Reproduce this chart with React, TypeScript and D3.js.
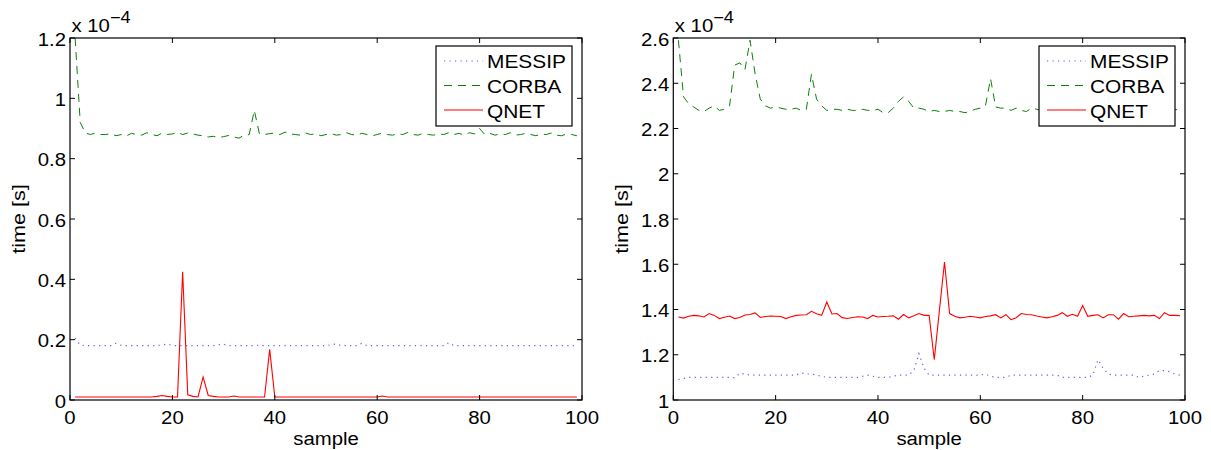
import * as d3 from "d3";

// sample index 1..99
const samples = d3.range(1, 100);

// left panel (x 1e-4 s)
const leftMessip = [
  0.205, 0.182, 0.18, 0.18, 0.18, 0.18, 0.18, 0.18, 0.188, 0.181,
  0.18, 0.18, 0.18, 0.18, 0.18, 0.18, 0.18, 0.183, 0.185, 0.181,
  0.18, 0.18, 0.18, 0.18, 0.18, 0.18, 0.18, 0.18, 0.183, 0.185,
  0.18, 0.18, 0.18, 0.18, 0.18, 0.18, 0.182, 0.18, 0.18, 0.18,
  0.18, 0.18, 0.18, 0.18, 0.18, 0.18, 0.18, 0.18, 0.18, 0.18,
  0.183, 0.186, 0.18, 0.18, 0.18, 0.18, 0.188, 0.18, 0.18, 0.18,
  0.18, 0.18, 0.18, 0.18, 0.18, 0.18, 0.18, 0.18, 0.18, 0.18,
  0.18, 0.18, 0.18, 0.19, 0.18, 0.18, 0.18, 0.18, 0.18, 0.18,
  0.18, 0.18, 0.18, 0.18, 0.18, 0.18, 0.18, 0.18, 0.18, 0.18,
  0.18, 0.18, 0.18, 0.18, 0.18, 0.18, 0.18, 0.18, 0.181,
];
const leftCorba = [
  1.2, 0.92, 0.885, 0.88, 0.885, 0.88, 0.88, 0.883, 0.876, 0.88,
  0.875, 0.884, 0.88, 0.878, 0.886, 0.88, 0.876, 0.885, 0.88, 0.882,
  0.887, 0.88, 0.885, 0.882, 0.878, 0.876, 0.872, 0.874, 0.87, 0.873,
  0.877, 0.872, 0.868, 0.878, 0.88, 0.96, 0.882, 0.88, 0.883, 0.885,
  0.88, 0.888, 0.882, 0.88, 0.878, 0.885, 0.88, 0.882, 0.876, 0.88,
  0.883, 0.878, 0.88, 0.886, 0.88, 0.878, 0.884, 0.88, 0.876, 0.88,
  0.885, 0.88, 0.878, 0.882, 0.88, 0.887, 0.88, 0.878, 0.884, 0.88,
  0.878, 0.882, 0.88, 0.886, 0.88, 0.884, 0.878, 0.886, 0.882, 0.9,
  0.88, 0.884, 0.878, 0.882, 0.88, 0.886, 0.878, 0.88, 0.884, 0.88,
  0.876, 0.882, 0.88, 0.885, 0.878, 0.876, 0.882, 0.88, 0.876,
];
const leftQnet = [
  0.01, 0.01, 0.01, 0.01, 0.01, 0.01, 0.01, 0.01, 0.01, 0.01,
  0.01, 0.01, 0.01, 0.01, 0.01, 0.01, 0.012, 0.015, 0.012, 0.01,
  0.01, 0.425, 0.017, 0.012, 0.01, 0.076, 0.015, 0.012, 0.01, 0.01,
  0.01, 0.013, 0.01, 0.01, 0.01, 0.01, 0.01, 0.01, 0.168, 0.01,
  0.01, 0.01, 0.01, 0.01, 0.01, 0.01, 0.01, 0.01, 0.01, 0.01,
  0.01, 0.01, 0.01, 0.01, 0.01, 0.01, 0.01, 0.01, 0.01, 0.01,
  0.013, 0.01, 0.01, 0.01, 0.01, 0.01, 0.01, 0.01, 0.01, 0.01,
  0.01, 0.01, 0.01, 0.01, 0.01, 0.01, 0.01, 0.01, 0.01, 0.01,
  0.01, 0.01, 0.01, 0.01, 0.01, 0.01, 0.01, 0.01, 0.01, 0.01,
  0.01, 0.01, 0.01, 0.01, 0.01, 0.01, 0.01, 0.01, 0.01,
];

// right panel (x 1e-4 s)
const rightMessip = [
  1.09, 1.095, 1.1, 1.1, 1.1, 1.1, 1.1, 1.1, 1.1, 1.1,
  1.1, 1.098, 1.118, 1.115, 1.11, 1.11, 1.11, 1.11, 1.11, 1.11,
  1.11, 1.11, 1.11, 1.11, 1.12, 1.115, 1.115, 1.11, 1.105, 1.1,
  1.1, 1.1, 1.1, 1.1, 1.1, 1.1, 1.105, 1.11, 1.105, 1.1,
  1.1, 1.1, 1.105, 1.11, 1.11, 1.11, 1.13, 1.205, 1.14, 1.11,
  1.11, 1.11, 1.11, 1.11, 1.11, 1.11, 1.11, 1.11, 1.11, 1.11,
  1.115, 1.105, 1.1, 1.1, 1.1, 1.11, 1.11, 1.11, 1.11, 1.11,
  1.11, 1.11, 1.11, 1.11, 1.11, 1.1, 1.1, 1.1, 1.1, 1.1,
  1.1, 1.11, 1.178, 1.14, 1.115, 1.11, 1.11, 1.11, 1.11, 1.11,
  1.1, 1.105, 1.11, 1.115, 1.13, 1.13, 1.125, 1.115, 1.11,
];
const rightCorba = [
  2.59, 2.34, 2.31, 2.295, 2.28, 2.275, 2.29, 2.3, 2.28, 2.285,
  2.3, 2.48, 2.49, 2.46, 2.59, 2.44, 2.33, 2.3, 2.29, 2.295,
  2.29, 2.285, 2.285, 2.29, 2.28, 2.285, 2.44, 2.33, 2.3, 2.28,
  2.285, 2.285, 2.28, 2.285, 2.28, 2.28, 2.285, 2.28, 2.28, 2.285,
  2.27, 2.27, 2.29, 2.32, 2.34, 2.32, 2.29, 2.29, 2.285, 2.275,
  2.28, 2.275, 2.275, 2.28, 2.275, 2.275, 2.27, 2.275, 2.285, 2.29,
  2.3, 2.42, 2.295, 2.29, 2.29, 2.28, 2.29, 2.28, 2.275, 2.29,
  2.285, 2.28, 2.29, 2.285, 2.28, 2.285, 2.29, 2.28, 2.285, 2.29,
  2.28, 2.285, 2.28, 2.29, 2.285, 2.28, 2.285, 2.29, 2.28, 2.285,
  2.28, 2.29, 2.285, 2.28, 2.285, 2.28, 2.29, 2.285, 2.28,
];
const rightQnet = [
  1.367, 1.362, 1.37, 1.374, 1.372, 1.367, 1.382, 1.374, 1.36, 1.366,
  1.371, 1.36, 1.365, 1.376, 1.378, 1.385, 1.365, 1.369, 1.371, 1.37,
  1.369, 1.36, 1.368, 1.374, 1.376, 1.377, 1.392, 1.381, 1.374, 1.433,
  1.38, 1.382, 1.364, 1.36, 1.365, 1.368, 1.367, 1.36, 1.374, 1.367,
  1.369, 1.37, 1.372, 1.357, 1.378, 1.363, 1.372, 1.382, 1.374, 1.374,
  1.178, 1.395, 1.61, 1.382, 1.37, 1.363, 1.366, 1.37, 1.367, 1.363,
  1.369, 1.372, 1.377, 1.363, 1.377, 1.355, 1.364, 1.382, 1.378, 1.377,
  1.371, 1.367, 1.363, 1.368, 1.374, 1.386, 1.37, 1.379, 1.37, 1.418,
  1.37, 1.374, 1.377, 1.363, 1.377, 1.377, 1.357, 1.382, 1.368, 1.37,
  1.372, 1.374, 1.372, 1.374, 1.36, 1.386, 1.374, 1.374, 1.373,
];

const xTicks = [0, 20, 40, 60, 80, 100];
const leftYTicks = [0, 0.2, 0.4, 0.6, 0.8, 1, 1.2];
const rightYTicks = [1, 1.2, 1.4, 1.6, 1.8, 2, 2.2, 2.4, 2.6];
const seriesNames = ["MESSIP", "CORBA", "QNET"];

const FONT = "'Liberation Sans', Arial, Helvetica, sans-serif";
const SX = 1.13; // glyphs in the picture are a bit wider than tall

const styles = [
  { stroke: "#5c5cff", width: 1.2, dash: "1.2,4.3" },
  { stroke: "#0a800a", width: 1, dash: "8,6" },
  { stroke: "#ff0000", width: 1.1, dash: null },
];

function Txt({ x, y, anchor = "start", size = 18, children }: any) {
  return (
    <text
      transform={`translate(${x},${y}) scale(${SX},1)`}
      textAnchor={anchor}
      fontSize={size}
      fontFamily={FONT}
      fill="#000"
    >
      {children}
    </text>
  );
}

function Panel({ x0, x1, yDomain, yTicks, series, id }: any) {
  const top = 38;
  const bottom = 400;
  const x = d3.scaleLinear().domain([0, 100]).range([x0, x1]);
  const y = d3.scaleLinear().domain(yDomain).range([bottom, top]);
  const line = d3
    .line<number>()
    .x((_, i) => x(samples[i]))
    .y((d) => y(d));

  const lx = x1 - 146;
  const ly = 46;

  return (
    <g>
      <defs>
        <clipPath id={id}>
          <rect x={x0} y={top - 2} width={x1 - x0} height={bottom - top + 4} />
        </clipPath>
      </defs>
      <rect x={x0} y={top} width={x1 - x0} height={bottom - top} fill="#fff" />

      <g clipPath={`url(#${id})`}>
        {series.map((s: number[], i: number) => (
          <path
            key={i}
            d={line(s) || ""}
            fill="none"
            stroke={styles[i].stroke}
            strokeWidth={styles[i].width}
            strokeDasharray={styles[i].dash || undefined}
          />
        ))}
      </g>

      {/* ticks, inward on all four sides */}
      {xTicks.map((t) => (
        <g key={"x" + t}>
          <line x1={x(t)} x2={x(t)} y1={bottom} y2={bottom - 5} stroke="#000" />
          <line x1={x(t)} x2={x(t)} y1={top} y2={top + 5} stroke="#000" />
          <Txt x={x(t)} y={424} anchor="middle">
            {t}
          </Txt>
        </g>
      ))}
      {yTicks.map((t: number) => (
        <g key={"y" + t}>
          <line x1={x0} x2={x0 + 5} y1={y(t)} y2={y(t)} stroke="#000" />
          <line x1={x1} x2={x1 - 5} y1={y(t)} y2={y(t)} stroke="#000" />
          <Txt x={x0 - 4} y={y(t) + 7.5} anchor="end">
            {d3.format("~g")(t)}
          </Txt>
        </g>
      ))}

      <rect
        x={x0}
        y={top}
        width={x1 - x0}
        height={bottom - top}
        fill="none"
        stroke="#000"
        strokeWidth={1.2}
      />

      {/* exponent */}
      <Txt x={x0 + 1.5} y={31.5}>x 10</Txt>
      <Txt x={x0 + 40} y={23} size={16}>
        −4
      </Txt>

      {/* axis labels */}
      <Txt x={(x0 + x1) / 2} y={445} anchor="middle">
        sample
      </Txt>
      <text
        transform={`translate(${x0 - 45.5},219) rotate(-90) scale(1.17,1)`}
        textAnchor="middle"
        fontSize={18.5}
        fontFamily={FONT}
      >
        time [s]
      </text>

      {/* legend */}
      <rect x={lx} y={ly} width={136} height={80} fill="#fff" stroke="#000" strokeWidth={1.2} />
      {seriesNames.map((n, i) => (
        <g key={n}>
          <line
            x1={lx + 8}
            x2={lx + 47}
            y1={ly + 15 + i * 24.5}
            y2={ly + 15 + i * 24.5}
            stroke={styles[i].stroke}
            strokeWidth={styles[i].width}
            strokeDasharray={styles[i].dash || undefined}
          />
          <Txt x={lx + 51} y={ly + 22 + i * 25} size={18.5}>
            {n}
          </Txt>
        </g>
      ))}
    </g>
  );
}

export default function App() {
  return (
    <svg
      width={1211}
      height={450}
      style={{ position: "absolute", left: 0, top: 0, background: "#fff" }}
    >
      <rect width={1211} height={450} fill="#fff" />
      <Panel
        id="clipL"
        x0={70}
        x1={582}
        yDomain={[0, 1.2]}
        yTicks={leftYTicks}
        series={[leftMessip, leftCorba, leftQnet]}
      />
      <Panel
        id="clipR"
        x0={673.3}
        x1={1185}
        yDomain={[1, 2.6]}
        yTicks={rightYTicks}
        series={[rightMessip, rightCorba, rightQnet]}
      />
    </svg>
  );
}
